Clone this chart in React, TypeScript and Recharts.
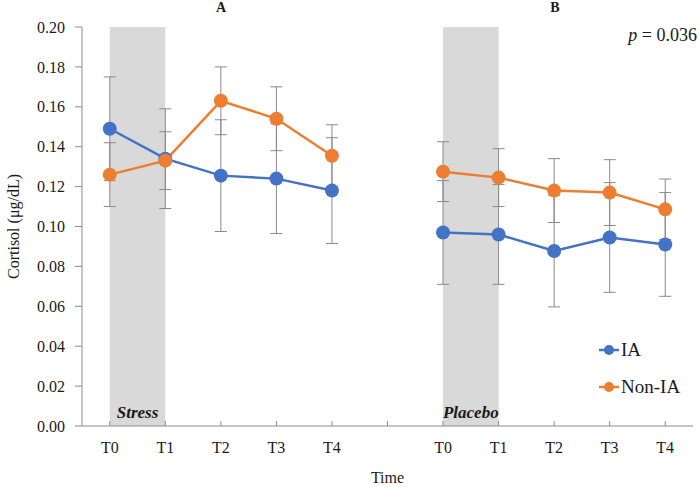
import React from "react";
import {
  LineChart,
  Line,
  XAxis,
  YAxis,
  ErrorBar,
  ReferenceArea,
} from "recharts";

// ---- Data ----
const timePoints = ["T0", "T1", "T2", "T3", "T4"];
const tickLabels = ["T0", "T1", "T2", "T3", "T4", "", "T0", "T1", "T2", "T3", "T4"];
const yTicks = [0, 0.02, 0.04, 0.06, 0.08, 0.1, 0.12, 0.14, 0.16, 0.18, 0.2];
const seriesNames = ["IA", "Non-IA"];

// Panel A (Stress)
const iaStress = [0.149, 0.134, 0.1255, 0.124, 0.118];
const iaStressErr = [0.026, 0.025, 0.028, 0.0275, 0.0265];
const nonIaStress = [0.126, 0.133, 0.163, 0.154, 0.1355];
const nonIaStressErr = [0.016, 0.0145, 0.017, 0.016, 0.0155];

// Panel B (Placebo)
const iaPlacebo = [0.097, 0.096, 0.0877, 0.0945, 0.091];
const iaPlaceboErr = [0.026, 0.025, 0.028, 0.0275, 0.026];
const nonIaPlacebo = [0.1275, 0.1245, 0.118, 0.117, 0.1086];
const nonIaPlaceboErr = [0.015, 0.0145, 0.016, 0.0165, 0.0152];

type Row = {
  x: number;
  label: string;
  ia: number | null;
  iaErr: number | null;
  nonIa: number | null;
  nonIaErr: number | null;
};

const data: Row[] = [
  ...timePoints.map((t, i) => ({
    x: i,
    label: t,
    ia: iaStress[i],
    iaErr: iaStressErr[i],
    nonIa: nonIaStress[i],
    nonIaErr: nonIaStressErr[i],
  })),
  { x: timePoints.length, label: "", ia: null, iaErr: null, nonIa: null, nonIaErr: null },
  ...timePoints.map((t, i) => ({
    x: timePoints.length + 1 + i,
    label: t,
    ia: iaPlacebo[i],
    iaErr: iaPlaceboErr[i],
    nonIa: nonIaPlacebo[i],
    nonIaErr: nonIaPlaceboErr[i],
  })),
];

const xTicks = tickLabels.map((_, i) => i);

const BLUE = "#4472C4";
const ORANGE = "#ED7D31";
const AXIS = "#8c8c8c";
const TEXT = "#1a1a1a";
const SERIF = "Liberation Serif, serif";
const seriesColors = [BLUE, ORANGE];

export default function App() {
  return (
    <div
      style={{
        position: "absolute",
        left: 0,
        top: 0,
        width: 700,
        height: 487,
        fontFamily: SERIF,
      }}
    >
      <LineChart
        width={700}
        height={487}
        data={data}
        margin={{ top: 27, right: 7, bottom: 0, left: 0 }}
        style={{ fontFamily: SERIF }}
      >
        <ReferenceArea
          x1={0}
          x2={1}
          y1={0}
          y2={0.2}
          fill="#D9D9D9"
          fillOpacity={1}
          stroke="none"
          ifOverflow="visible"
          label={{
            value: "Stress",
            position: "insideBottom",
            offset: 8,
            style: { fontFamily: SERIF, fontSize: 17, fontWeight: "bold", fontStyle: "italic", fill: TEXT },
          }}
        />
        <ReferenceArea
          x1={6}
          x2={7}
          y1={0}
          y2={0.2}
          fill="#D9D9D9"
          fillOpacity={1}
          stroke="none"
          ifOverflow="visible"
          label={{
            value: "Placebo",
            position: "insideBottom",
            offset: 8,
            style: { fontFamily: SERIF, fontSize: 17, fontWeight: "bold", fontStyle: "italic", fill: TEXT },
          }}
        />
        <XAxis
          dataKey="x"
          type="number"
          domain={[-0.5, 10.5]}
          ticks={xTicks}
          interval={0}
          tickFormatter={(v: number) => tickLabels[v] ?? ""}
          height={61}
          tickSize={-5}
          tickMargin={21}
          axisLine={{ stroke: AXIS }}
          tickLine={{ stroke: AXIS }}
          tick={{ fill: TEXT, fontSize: 16, fontFamily: SERIF }}
          label={{
            value: "Time",
            position: "insideBottom",
            offset: 4,
            style: { fill: TEXT, fontSize: 16, fontFamily: SERIF },
          }}
        />
        <YAxis
          type="number"
          domain={[0, 0.2]}
          ticks={yTicks}
          interval={0}
          width={82}
          tickSize={7}
          tickMargin={10}
          tickFormatter={(v: number) => v.toFixed(2)}
          axisLine={{ stroke: AXIS }}
          tickLine={{ stroke: AXIS }}
          tick={{ fill: TEXT, fontSize: 16, fontFamily: SERIF }}
          label={{
            value: "Cortisol (μg/dL)",
            angle: -90,
            position: "center",
            dx: -28,
            style: { fill: TEXT, fontSize: 16, fontFamily: SERIF, textAnchor: "middle" },
          }}
        />
        <Line
          dataKey="ia"
          name={seriesNames[0]}
          stroke={BLUE}
          strokeWidth={2.5}
          dot={{ r: 7, fill: BLUE, stroke: BLUE, strokeWidth: 0 }}
          activeDot={false}
          connectNulls={false}
          isAnimationActive={false}
        >
          <ErrorBar dataKey="iaErr" direction="y" width={6} stroke="#8a8a8a" strokeWidth={1} />
        </Line>
        <Line
          dataKey="nonIa"
          name={seriesNames[1]}
          stroke={ORANGE}
          strokeWidth={2.5}
          dot={{ r: 7, fill: ORANGE, stroke: ORANGE, strokeWidth: 0 }}
          activeDot={false}
          connectNulls={false}
          isAnimationActive={false}
        >
          <ErrorBar dataKey="nonIaErr" direction="y" width={6} stroke="#8a8a8a" strokeWidth={1} />
        </Line>
      </LineChart>

      {/* Legend */}
      <div
        style={{
          position: "absolute",
          left: 599,
          top: 331,
          fontFamily: SERIF,
          fontSize: 19,
          color: TEXT,
        }}
      >
        {seriesNames.map((name, i) => (
          <div key={name} style={{ display: "flex", alignItems: "center", height: 37 }}>
            <svg width={20} height={12} style={{ marginRight: 2 }}>
              <line x1={0} y1={6} x2={20} y2={6} stroke={seriesColors[i]} strokeWidth={2.5} />
              <circle cx={10} cy={6} r={5} fill={seriesColors[i]} />
            </svg>
            <span>{name}</span>
          </div>
        ))}
      </div>

      <div
        style={{
          position: "absolute",
          left: 205,
          top: 0,
          width: 32,
          textAlign: "center",
          fontFamily: SERIF,
          fontWeight: "bold",
          fontSize: 14,
          color: TEXT,
          lineHeight: "16px",
        }}
      >
        A
      </div>
      <div
        style={{
          position: "absolute",
          left: 539,
          top: 0,
          width: 32,
          textAlign: "center",
          fontFamily: SERIF,
          fontWeight: "bold",
          fontSize: 14,
          color: TEXT,
          lineHeight: "16px",
        }}
      >
        B
      </div>
      <div
        style={{
          position: "absolute",
          right: 3,
          top: 24,
          fontFamily: SERIF,
          fontSize: 18,
          color: TEXT,
          lineHeight: "22px",
          whiteSpace: "pre",
        }}
      >
        <i>p</i> = 0.036
      </div>
    </div>
  );
}
